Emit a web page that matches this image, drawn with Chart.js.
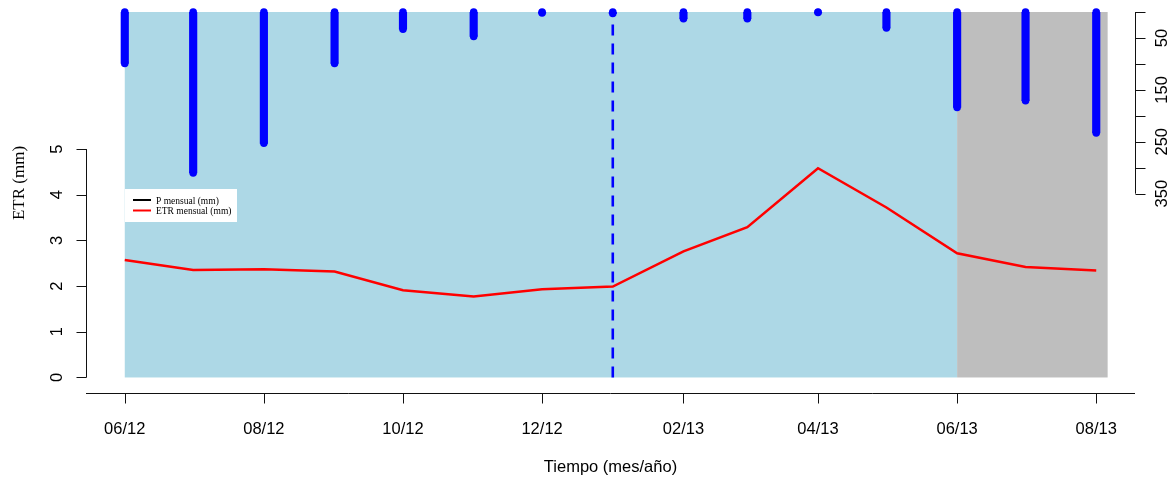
<!DOCTYPE html>
<html>
<head>
<meta charset="utf-8">
<script src="https://cdn.jsdelivr.net/npm/chart.js@4/dist/chart.umd.min.js"></script>
<style>
  html, body { margin: 0; padding: 0; background: #fff; }
</style>
</head>
<body>
<canvas id="myChart" width="1176" height="479"></canvas>
<script>
// monthly series, one value per month
const months = [
    '2012-06-01', '2012-07-01', '2012-08-01', '2012-09-01', '2012-10-01',
    '2012-11-01', '2012-12-01', '2013-01-01', '2013-02-01', '2013-03-01',
    '2013-04-01', '2013-05-01', '2013-06-01', '2013-07-01', '2013-08-01'
];
const etr = [2.57, 2.35, 2.37, 2.32, 1.91, 1.77, 1.93, 1.99, 2.76, 3.29, 4.58, 3.72, 2.72, 2.42, 2.34];
const precip = [99, 310, 253, 99, 33, 47, 2, 3, 13, 13, 1, 31, 184, 171, 233];

const xTickDates = ['2012-06-01', '2012-08-01', '2012-10-01', '2012-12-01', '2013-02-01', '2013-04-01', '2013-06-01', '2013-08-01'];
const xTickLabels = ['06/12', '08/12', '10/12', '12/12', '02/13', '04/13', '06/13', '08/13'];
const etrTicks = [0, 1, 2, 3, 4, 5];
const precipTicks = [0, 50, 100, 150, 200, 250, 300, 350];
const precipTickLabels = [50, 150, 250, 350];

// shaded periods and the dashed marker
const shadeBlue = ['2012-06-01', '2013-06-01'];
const shadeGrey = ['2013-06-01', '2013-08-06'];
const markDate = '2013-01-01';

const yMax = 8;

// days since the first month
const day = s => (Date.parse(s) - Date.parse(months[0])) / 864e5;

const sans = '"Liberation Sans", Arial, sans-serif';
const serif = '"Liberation Serif", "Times New Roman", serif';

const shading = {
    id: 'shading',
    beforeDatasetsDraw(chart) {
        const { ctx, chartArea: a, scales: { x, y } } = chart;
        const bottom = y.getPixelForValue(0);
        ctx.save();
        ctx.fillStyle = '#ADD8E6';
        let x0 = x.getPixelForValue(day(shadeBlue[0]));
        let x1 = x.getPixelForValue(day(shadeBlue[1]));
        ctx.fillRect(x0, a.top, x1 - x0, bottom - a.top);
        ctx.fillStyle = '#BEBEBE';
        x0 = x.getPixelForValue(day(shadeGrey[0]));
        x1 = x.getPixelForValue(day(shadeGrey[1]));
        ctx.fillRect(x0, a.top, x1 - x0, bottom - a.top);
        ctx.restore();
    }
};

function rotatedText(ctx, text, px, py) {
    ctx.save();
    ctx.translate(px, py);
    ctx.rotate(-Math.PI / 2);
    ctx.fillText(text, 0, 0);
    ctx.restore();
}

const axes = {
    id: 'axes',
    afterDraw(chart) {
        const { ctx, chartArea: a, scales: { x, y, y2 } } = chart;
        ctx.save();
        ctx.strokeStyle = '#111';
        ctx.fillStyle = '#000';
        ctx.lineWidth = 1;

        // bottom axis
        const by = Math.round(a.bottom) + 0.5;
        ctx.beginPath();
        ctx.moveTo(a.left, by);
        ctx.lineTo(a.right, by);
        xTickDates.forEach(d => {
            const px = Math.round(x.getPixelForValue(day(d))) + 0.5;
            ctx.moveTo(px, by);
            ctx.lineTo(px, by + 10);
        });
        ctx.stroke();
        ctx.font = '16.5px ' + sans;
        ctx.textAlign = 'center';
        ctx.textBaseline = 'alphabetic';
        xTickDates.forEach((d, i) => {
            ctx.fillText(xTickLabels[i], x.getPixelForValue(day(d)), 434);
        });
        ctx.fillText('Tiempo (mes/año)', (a.left + a.right) / 2, 472);

        // left axis (ETR)
        const lx = Math.round(a.left) + 0.5;
        ctx.beginPath();
        ctx.moveTo(lx, y.getPixelForValue(etrTicks[0]));
        ctx.lineTo(lx, y.getPixelForValue(etrTicks[etrTicks.length - 1]));
        etrTicks.forEach(v => {
            const py = Math.round(y.getPixelForValue(v)) + 0.5;
            ctx.moveTo(lx, py);
            ctx.lineTo(lx - 10, py);
        });
        ctx.stroke();
        etrTicks.forEach(v => rotatedText(ctx, String(v), 62, y.getPixelForValue(v)));

        ctx.font = '17px ' + serif;
        rotatedText(ctx, 'ETR (mm)', 24, 183);

        // right axis (precipitation, reversed)
        const rx = Math.round(a.right) + 0.5;
        ctx.beginPath();
        ctx.moveTo(rx, y2.getPixelForValue(precipTicks[0]));
        ctx.lineTo(rx, y2.getPixelForValue(precipTicks[precipTicks.length - 1]));
        precipTicks.forEach(v => {
            const py = Math.round(y2.getPixelForValue(v)) + 0.5;
            ctx.moveTo(rx, py);
            ctx.lineTo(rx + 10, py);
        });
        ctx.stroke();
        ctx.font = '16.5px ' + sans;
        precipTickLabels.forEach(v => rotatedText(ctx, String(v), 1167, y2.getPixelForValue(v)));

        // legend box
        ctx.fillStyle = '#fff';
        ctx.fillRect(125, 189, 112, 33);
        ctx.lineWidth = 2;
        ctx.strokeStyle = '#000';
        ctx.beginPath();
        ctx.moveTo(133, 200);
        ctx.lineTo(151, 200);
        ctx.stroke();
        ctx.strokeStyle = '#FF0000';
        ctx.beginPath();
        ctx.moveTo(133, 210.5);
        ctx.lineTo(151, 210.5);
        ctx.stroke();
        ctx.fillStyle = '#000';
        ctx.font = '9.5px ' + serif;
        ctx.textAlign = 'left';
        ctx.textBaseline = 'middle';
        ctx.fillText('P mensual (mm)', 156, 201);
        ctx.fillText('ETR mensual (mm)', 156, 211.5);

        ctx.restore();
    }
};

const ctx = document.getElementById('myChart');
const myChart = new Chart(ctx, {
    type: 'line',
    data: {
        datasets: [
            {
                label: 'ETR mensual (mm)',
                data: months.map((m, i) => ({ x: day(m), y: etr[i] })),
                borderColor: '#FF0000',
                borderWidth: 2.5,
                pointRadius: 0,
                tension: 0,
                yAxisID: 'y',
                order: 0
            },
            {
                label: 'marca',
                data: [{ x: day(markDate), y: 0 }, { x: day(markDate), y: yMax }],
                borderColor: '#0000FF',
                borderWidth: 2.6,
                borderDash: [11, 8],
                pointRadius: 0,
                yAxisID: 'y',
                order: 1
            },
            {
                type: 'bar',
                label: 'P mensual (mm)',
                data: months.map((m, i) => ({ x: day(m), y: precip[i] })),
                backgroundColor: '#0000FF',
                barThickness: 7.5,
                yAxisID: 'y2',
                order: 2
            },
            {
                // rounded ends of the precipitation bars
                label: 'P fin',
                data: months.map((m, i) => ({ x: day(m), y: precip[i] })),
                showLine: false,
                pointRadius: 3.75,
                pointBorderWidth: 0,
                pointBackgroundColor: '#0000FF',
                yAxisID: 'y2',
                clip: false,
                order: 3
            },
            {
                label: 'P base',
                data: months.map(m => ({ x: day(m), y: 0 })),
                showLine: false,
                pointRadius: 3.75,
                pointBorderWidth: 0,
                pointBackgroundColor: '#0000FF',
                yAxisID: 'y2',
                clip: false,
                order: 4
            }
        ]
    },
    options: {
        responsive: false,
        animation: false,
        devicePixelRatio: 1,
        layout: {
            padding: { left: 86, right: 41, top: 12, bottom: 86 }
        },
        plugins: {
            legend: { display: false },
            tooltip: { enabled: false }
        },
        scales: {
            x: { type: 'linear', min: -17, max: 443, offset: false, display: false },
            y: { min: -0.34, max: yMax, display: false },
            y2: { min: 0, max: 734, reverse: true, display: false }
        }
    },
    plugins: [shading, axes]
});
</script>
</body>
</html>
